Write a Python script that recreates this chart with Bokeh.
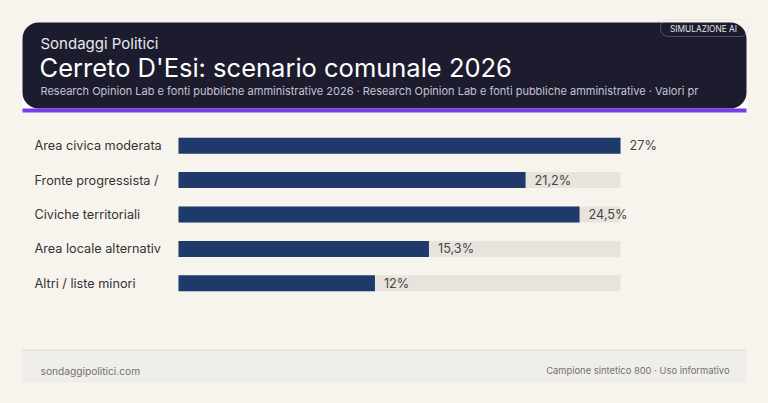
from bokeh.plotting import figure
from bokeh.models import Range1d, FactorRange, BoxAnnotation, ColumnDataSource
from bokeh.layouts import column
from bokeh.core.properties import value
from bokeh.embed import file_html
from bokeh.resources import INLINE

# ---- data ----
categories = ["Area civica moderata", "Fronte progressista /", "Civiche territoriali",
              "Area locale alternativ", "Altri / liste minori"]
values = [27.0, 21.2, 24.5, 15.3, 12.0]
value_labels = [f"{v:g}".replace(".", ",") + "%" for v in values]

kicker = "Sondaggi Politici"
title = "Cerreto D'Esi: scenario comunale 2026"
subtitle = ("Research Opinion Lab e fonti pubbliche amministrative 2026 · "
            "Research Opinion Lab e fonti pubbliche amministrative · Valori pr")
badge = "SIMULAZIONE AI"
footer_left = "sondaggipolitici.com"
footer_right = "Campione sintetico 800 · Uso informativo"

# ---- style ----
BG = "#f7f3ed"
NAVY = "#1c1c2e"
PURPLE = "#7c3aed"
BAR = "#1e3a6b"
TRACK = "#e8e4dd"
FONT = value("Inter")
W = 768


def base_fig(h, xr, yr):
    p = figure(width=W, height=h, x_range=xr, y_range=yr, output_backend="svg",
               toolbar_location=None, x_axis_location=None, y_axis_location=None,
               min_border=0, background_fill_color=BG, border_fill_color=BG,
               outline_line_color=None)
    p.grid.visible = False
    return p


# ---- header ----
HH = 128
hdr = base_fig(HH, Range1d(0, W), Range1d(0, HH))
hdr.add_layout(BoxAnnotation(left=22, right=746, top=32, bottom=20, fill_color="#ffffff",
                             fill_alpha=1, line_color=None, level="underlay"))
hdr.add_layout(BoxAnnotation(left=22, right=746, top=106, bottom=20, fill_color=NAVY,
                             fill_alpha=1, line_color=None, border_radius=16, level="underlay"))
hdr.add_layout(BoxAnnotation(left=22, right=746, top=20, bottom=16, fill_color=PURPLE,
                             fill_alpha=1, line_color=None, level="underlay"))
hdr.add_layout(BoxAnnotation(left=660, right=748, top=109, bottom=92, fill_alpha=0,
                             line_color="#d4d4d8", line_width=1, border_radius=8))
hdr.text(x=[40], y=[85.5], text=[kicker], text_font=FONT, text_font_size="15px",
         text_color="#e8e8f0", text_baseline="middle")
hdr.text(x=[39], y=[61], text=[title], text_font=FONT, text_font_size="25.5px",
         text_color="#ffffff", text_baseline="middle")
hdr.text(x=[40], y=[38], text=[subtitle], text_font=FONT, text_font_size="11px",
         text_color="#c4c4d0", text_baseline="middle")
hdr.text(x=[703], y=[100], text=[badge], text_font=FONT, text_font_size="8.3px",
         text_color="#e4e4ec", text_align="center", text_baseline="middle")

# ---- chart ----
CH = 172
ZERO_PX = 178.0
FULL_PX = 442.0
vmax = max(values)
per = FULL_PX / vmax
xr = Range1d(-ZERO_PX / per, (W - ZERO_PX) / per)
yr = FactorRange(factors=categories[::-1], range_padding=0)
ch = base_fig(CH, xr, yr)

src = ColumnDataSource(dict(cat=categories, val=values, lab=value_labels,
                            track=[vmax] * len(values), zero=[0] * len(values)))
bar_h = 16 / 34.4
ch.hbar(y="cat", left="zero", right="track", height=bar_h, source=src,
        fill_color=TRACK, line_color=None)
ch.hbar(y="cat", left="zero", right="val", height=bar_h, source=src,
        fill_color=BAR, line_color=None)
ch.text(x="zero", y="cat", text="cat", source=src, x_offset=-144, text_font=FONT,
        text_font_size="12.7px", text_color="#333333", text_align="left",
        text_baseline="middle")
ch.text(x="val", y="cat", text="lab", source=src, x_offset=9, text_font=FONT,
        text_font_size="12.7px", text_color="#444444", text_align="left",
        text_baseline="middle")

# ---- footer ----
FH = 103
ft = base_fig(FH, Range1d(0, W), Range1d(0, FH))
ft.add_layout(BoxAnnotation(left=22, right=746, top=53, bottom=21, fill_color="#f0eeea",
                            fill_alpha=1, line_color=None, level="underlay"))
ft.add_layout(BoxAnnotation(left=22, right=746, top=54, bottom=52.5, fill_color="#ebe4d6",
                            fill_alpha=1, line_color=None, level="underlay"))
ft.text(x=[40], y=[33], text=[footer_left], text_font=FONT, text_font_size="10.2px",
        text_color="#707070", text_baseline="middle")
ft.text(x=[729], y=[33], text=[footer_right], text_font=FONT, text_font_size="9.4px",
        text_color="#707070", text_baseline="middle", text_align="right")

layout = column(hdr, ch, ft, spacing=0)
html = file_html(layout, INLINE)
html = html.replace("</head>", "<style>body{background:%s;}</style></head>" % BG, 1)
open("out.html", "w").write(html)
